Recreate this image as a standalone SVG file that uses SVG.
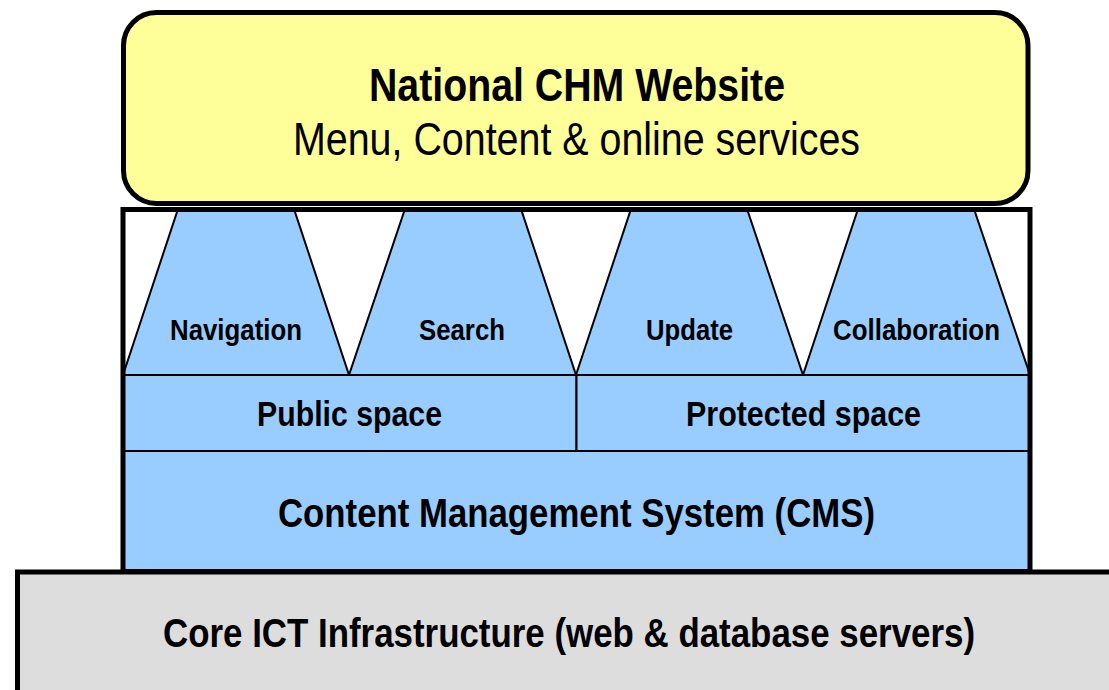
<svg xmlns="http://www.w3.org/2000/svg" width="1109" height="690" viewBox="0 0 1109 690">
<style>
text{font-family:"Liberation Sans Narrow","Liberation Sans",Arial,sans-serif;fill:#000;text-anchor:middle}
.b{font-weight:bold}
.thin{stroke:#000;stroke-width:2;fill:none}
.trap{fill:#99CCFF;stroke:#000;stroke-width:2;stroke-linejoin:miter}
</style>
<rect width="1109" height="690" fill="#fff"/>
<g id="platform">
<rect x="123" y="209.5" width="907" height="362" fill="#fff" stroke="none"/>
<rect x="123" y="375" width="907" height="197" fill="#99CCFF"/>
<g id="navigation"><polygon class="trap" points="178,209 294,209 349,375 123,375"/><text class="b" x="236" y="340" font-size="29" textLength="132" lengthAdjust="spacingAndGlyphs">Navigation</text></g>
<g id="search"><polygon class="trap" points="405,209 521,209 576,375 349,375"/><text class="b" x="462" y="340" font-size="29" textLength="86" lengthAdjust="spacingAndGlyphs">Search</text></g>
<g id="update"><polygon class="trap" points="631,209 747,209 803,375 576,375"/><text class="b" x="689.5" y="340" font-size="29" textLength="87" lengthAdjust="spacingAndGlyphs">Update</text></g>
<g id="collaboration"><polygon class="trap" points="858,209 974,209 1030,375 803,375"/><text class="b" x="916.5" y="340" font-size="29" textLength="167" lengthAdjust="spacingAndGlyphs">Collaboration</text></g>
<g id="public-space"><rect x="123" y="375" width="453.5" height="76" fill="#99CCFF" stroke="#000" stroke-width="2"/><text class="b" x="349.5" y="426" font-size="35" textLength="185" lengthAdjust="spacingAndGlyphs">Public space</text></g>
<g id="protected-space"><rect x="576.5" y="375" width="453.5" height="76" fill="#99CCFF" stroke="#000" stroke-width="2"/><text class="b" x="803.5" y="426" font-size="35" textLength="235" lengthAdjust="spacingAndGlyphs">Protected space</text></g>
<g id="cms"><text class="b" x="576.5" y="527" font-size="41" textLength="597" lengthAdjust="spacingAndGlyphs">Content Management System (CMS)</text></g>
<rect x="123" y="209.5" width="907" height="362" fill="none" stroke="#000" stroke-width="5"/>
</g>
<g id="website">
<rect x="123.5" y="12.5" width="904.5" height="191" rx="33" ry="33" fill="#FFFF99" stroke="#000" stroke-width="5"/>
<text class="b" x="577" y="101" font-size="46" textLength="416" lengthAdjust="spacingAndGlyphs">National CHM Website</text>
<text x="576.5" y="155" font-size="46" textLength="567" lengthAdjust="spacingAndGlyphs">Menu, Content &amp; online services</text>
</g>
<g id="core-ict">
<rect x="17.5" y="572" width="1120" height="150" fill="#DDDDDD" stroke="#000" stroke-width="5"/>
<text class="b" x="569" y="647" font-size="41" textLength="812" lengthAdjust="spacingAndGlyphs">Core ICT Infrastructure (web &amp; database servers)</text>
</g>
<g id="connectors"></g>
</svg>
